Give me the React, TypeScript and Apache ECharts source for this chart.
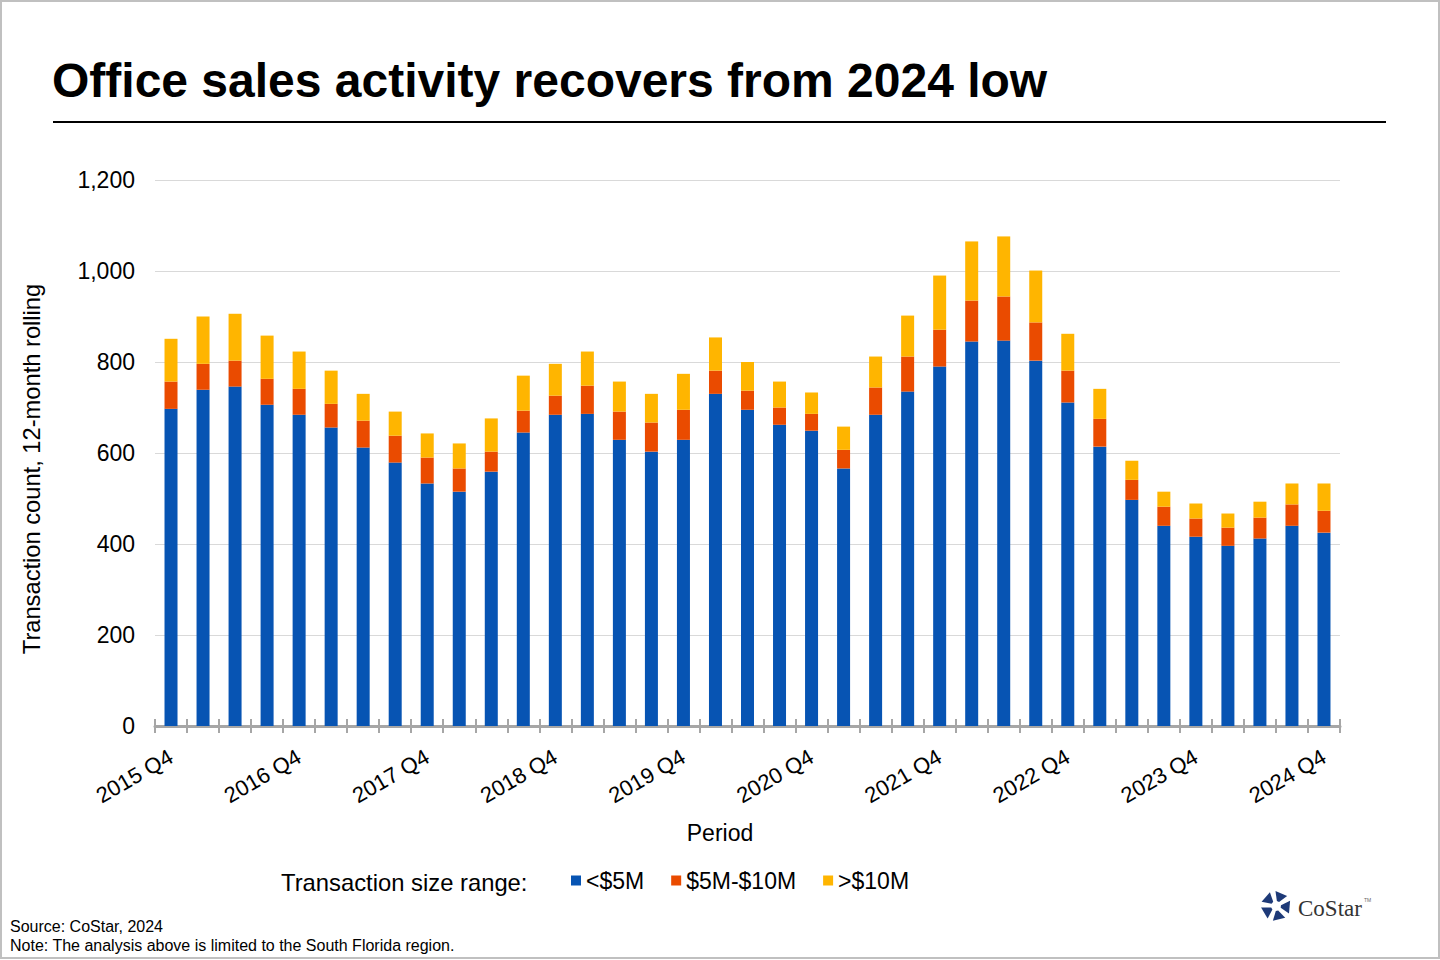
import React, { useEffect, useRef } from "react";
import * as echarts from "echarts";

const FONT = "'Liberation Sans', Arial, sans-serif";

// 12-month rolling office transaction counts, South Florida
const categories = [
  "2015 Q4",
  "2016 Q1", "2016 Q2", "2016 Q3", "2016 Q4",
  "2017 Q1", "2017 Q2", "2017 Q3", "2017 Q4",
  "2018 Q1", "2018 Q2", "2018 Q3", "2018 Q4",
  "2019 Q1", "2019 Q2", "2019 Q3", "2019 Q4",
  "2020 Q1", "2020 Q2", "2020 Q3", "2020 Q4",
  "2021 Q1", "2021 Q2", "2021 Q3", "2021 Q4",
  "2022 Q1", "2022 Q2", "2022 Q3", "2022 Q4",
  "2023 Q1", "2023 Q2", "2023 Q3", "2023 Q4",
  "2024 Q1", "2024 Q2", "2024 Q3", "2024 Q4",
];

const under5M = [
  697, 739, 746, 706, 684, 656, 612, 579, 533, 515, 559, 645, 684, 686, 629, 603, 629, 730, 695,
  662, 649, 566, 684, 735, 790, 845, 847, 803, 711, 614, 497, 440, 416, 396, 412, 440, 425,
];
const from5to10M = [
  60, 57, 57, 57, 57, 52, 59, 59, 57, 51, 44, 48, 42, 62, 62, 64, 66, 51, 42,
  38, 37, 41, 60, 77, 81, 90, 97, 84, 70, 61, 44, 42, 40, 40, 46, 47, 48,
];
const over10M = [
  94, 104, 103, 95, 82, 73, 59, 53, 53, 55, 73, 77, 70, 75, 66, 63, 79, 73, 63,
  57, 47, 51, 68, 90, 119, 130, 132, 114, 81, 66, 42, 33, 33, 31, 35, 46, 60,
];

const seriesNames = ["<$5M", "$5M-$10M", ">$10M"];
const colors = ["#0754B3", "#EA4B00", "#FFB500"];

// small CoStar mark: five chunky pieces around a pentagon
function logoPieces(cx: number, cy: number) {
  const R = 15;
  const r = 5;
  const pt = (deg: number, rad: number) => {
    const a = (deg * Math.PI) / 180;
    return [cx + rad * Math.cos(a), cy + rad * Math.sin(a)];
  };
  const pieces = [];
  for (let k = 0; k < 5; k++) {
    const a = -100 + 72 * k;
    pieces.push({
      type: "polygon",
      shape: { points: [pt(a + 8, R), pt(a + 58, R), pt(a + 48, r), pt(a + 20, r)] },
      style: { fill: "#1E3A78" },
    });
  }
  return pieces;
}

const App: React.FC = () => {
  const chartRef = useRef<HTMLDivElement>(null);

  useEffect(() => {
    document.body.style.margin = "0";
    if (!chartRef.current) return;
    const chart = echarts.init(chartRef.current, null, { renderer: "svg" });

    const seriesData = [under5M, from5to10M, over10M];

    const option = {
      animation: false,
      backgroundColor: "#ffffff",
      grid: { left: 155, right: 100, top: 180, bottom: 234 },
      legend: {
        left: 566,
        top: 864,
        icon: "rect",
        itemWidth: 10,
        itemHeight: 10,
        itemGap: 27,
        data: seriesNames,
        textStyle: { fontSize: 23, color: "#000", fontFamily: FONT },
      },
      xAxis: [
        {
          type: "category",
          data: categories,
          axisLine: { lineStyle: { color: "#a6a6a6", width: 3 } },
          axisTick: { show: true, interval: 0, length: 7, lineStyle: { color: "#a6a6a6", width: 2 } },
          axisLabel: {
            interval: 3,
            rotate: 30,
            margin: 29,
            fontSize: 22,
            color: "#000",
            fontFamily: FONT,
          },
        },
        {
          type: "category",
          data: categories,
          position: "bottom",
          axisLine: { show: false },
          axisTick: {
            show: true,
            inside: true,
            interval: 0,
            length: 7,
            lineStyle: { color: "#a6a6a6", width: 2 },
          },
          axisLabel: { show: false },
        },
      ],
      yAxis: {
        type: "value",
        min: 0,
        max: 1200,
        interval: 200,
        axisLine: { show: false },
        axisTick: { show: false },
        axisLabel: {
          margin: 20,
          fontSize: 23,
          color: "#000",
          fontFamily: FONT,
          formatter: (v: number) => String(v).replace(/\B(?=(\d{3})+(?!\d))/g, ","),
        },
        splitLine: { lineStyle: { color: "#d9d9d9", width: 1 } },
      },
      series: seriesNames.map((name, i) => ({
        name,
        type: "bar",
        stack: "total",
        barWidth: 13,
        xAxisIndex: 0,
        itemStyle: { color: colors[i] },
        data: seriesData[i],
      })),
      graphic: [
        {
          type: "rect",
          shape: { x: 1, y: 1, width: 1438, height: 957 },
          style: { fill: "none", stroke: "#c0c0c0", lineWidth: 2 },
          silent: true,
        },
        {
          type: "text",
          x: 52,
          y: 80,
          style: {
            text: "Office sales activity recovers from 2024 low",
            font: `bold 48px ${FONT}`,
            fill: "#000",
            align: "left",
            verticalAlign: "middle",
          },
        },
        {
          type: "line",
          shape: { x1: 53, y1: 122, x2: 1386, y2: 122 },
          style: { stroke: "#000", lineWidth: 2 },
        },
        {
          type: "text",
          x: 32,
          y: 469,
          rotation: Math.PI / 2,
          style: {
            text: "Transaction count, 12-month rolling",
            font: `23.7px ${FONT}`,
            fill: "#000",
            align: "center",
            verticalAlign: "middle",
          },
        },
        {
          type: "text",
          x: 720,
          y: 833,
          style: {
            text: "Period",
            font: `23px ${FONT}`,
            fill: "#000",
            align: "center",
            verticalAlign: "middle",
          },
        },
        {
          type: "text",
          x: 281,
          y: 882,
          style: {
            text: "Transaction size range:",
            font: `23.8px ${FONT}`,
            fill: "#000",
            align: "left",
            verticalAlign: "middle",
          },
        },
        {
          type: "text",
          x: 10,
          y: 926,
          style: {
            text: "Source: CoStar, 2024",
            font: `16px ${FONT}`,
            fill: "#000",
            align: "left",
            verticalAlign: "middle",
          },
        },
        {
          type: "text",
          x: 10,
          y: 945,
          style: {
            text: "Note: The analysis above is limited to the South Florida region.",
            font: `16px ${FONT}`,
            fill: "#000",
            align: "left",
            verticalAlign: "middle",
          },
        },
        ...logoPieces(1276, 906),
        {
          type: "text",
          x: 1298,
          y: 908,
          style: {
            text: "CoStar",
            font: `23px 'Liberation Serif', 'Times New Roman', serif`,
            fill: "#333",
            align: "left",
            verticalAlign: "middle",
          },
        },
        {
          type: "text",
          x: 1364,
          y: 900,
          style: {
            text: "TM",
            font: `5px ${FONT}`,
            fill: "#666",
            align: "left",
            verticalAlign: "middle",
          },
        },
      ],
    };

    chart.setOption(option);

    return () => {
      chart.dispose();
    };
  }, []);

  return <div ref={chartRef} style={{ width: "1440px", height: "960px" }} />;
};

export default App;
